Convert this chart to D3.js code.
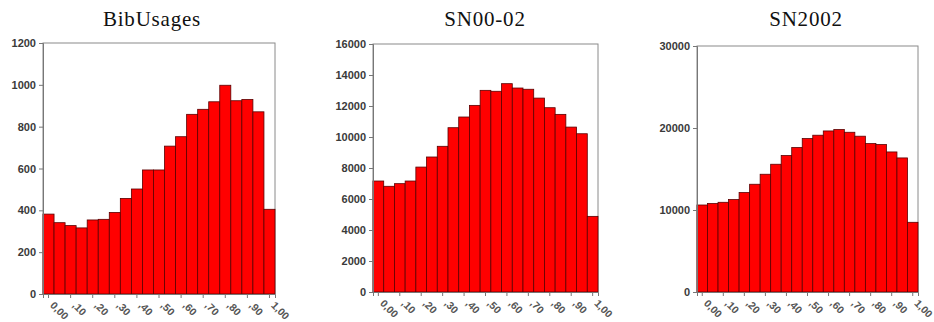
<!DOCTYPE html>
<html>
<head>
<meta charset="utf-8">
<script src="https://cdn.jsdelivr.net/npm/d3@7"></script>
<style>
  html, body { margin: 0; padding: 0; background: #fff; }
  svg { display: block; }
  .axis text { font-family: "Liberation Sans", Arial, sans-serif; font-weight: bold; font-size: 11px; fill: #3a3a3a; }
  .axis path, .axis line { stroke: #777; }
  .title { font-family: "Liberation Serif", "DejaVu Serif", serif; font-size: 21px; letter-spacing: 0.8px; fill: #111; }
</style>
</head>
<body>
<script>
// Histogram bins (centres 0.00 … 1.00, step 0.05)
const binCenters = [0.00,0.05,0.10,0.15,0.20,0.25,0.30,0.35,0.40,0.45,0.50,0.55,0.60,0.65,0.70,0.75,0.80,0.85,0.90,0.95,1.00];
const xTickLabels = ["0,00",",10",",20",",30",",40",",50",",60",",70",",80",",90","1,00"];

const bibUsages = [382,341,327,316,354,357,390,457,502,593,593,707,752,859,883,919,998,924,930,871,405];
const sn0002    = [7160,6820,6990,7160,8060,8710,9400,10600,11290,12040,13010,12950,13440,13160,13080,12510,11890,11460,10640,10210,4880];
const sn2002    = [10610,10790,10940,11270,12130,13140,14360,15580,16640,17620,18710,19120,19640,19810,19480,19000,18100,17980,17080,16350,8500];

const titles = ["BibUsages", "SN00-02", "SN2002"];
const yMax   = [1200, 16000, 30000];
const yTicks = [
  [0,200,400,600,800,1000,1200],
  [0,2000,4000,6000,8000,10000,12000,14000,16000],
  [0,10000,20000,30000]
];
const series = [bibUsages, sn0002, sn2002];

// Panel frames
const panels = [
  {left: 43,  right: 275, top: 43, bottom: 294, titleX: 152},
  {left: 373, right: 598, top: 44, bottom: 292, titleX: 485},
  {left: 697, right: 918, top: 46, bottom: 292, titleX: 806}
];

const svg = d3.select("body").append("svg")
  .attr("width", 934).attr("height", 322);

panels.forEach((p, i) => {
  const g = svg.append("g");

  const x = d3.scaleBand()
    .domain(binCenters.map((d, k) => k))
    .range([p.left, p.right])
    .padding(0);

  const y = d3.scaleLinear()
    .domain([0, yMax[i]])
    .range([p.bottom, p.top]);

  // plot frame
  g.append("rect")
    .attr("x", p.left).attr("y", p.top)
    .attr("width", p.right - p.left).attr("height", p.bottom - p.top)
    .attr("fill", "none").attr("stroke", "#8a8a8a").attr("stroke-width", 1);

  // bars
  g.append("g").selectAll("rect")
    .data(series[i])
    .join("rect")
    .attr("x", (d, k) => x(k))
    .attr("y", d => y(d))
    .attr("width", x.bandwidth())
    .attr("height", d => y(0) - y(d))
    .attr("fill", "#ff0000")
    .attr("stroke", "#5a0000")
    .attr("stroke-width", 0.8);

  // y axis
  g.append("g")
    .attr("class", "axis")
    .attr("transform", `translate(${p.left},0)`)
    .call(d3.axisLeft(y).tickValues(yTicks[i]).tickSize(4).tickPadding(3).tickFormat(d3.format("d")))
    .call(a => a.select(".domain").attr("stroke", "#777"));

  // x axis: a tick on every other bin
  const tickIdx = binCenters.map((d, k) => k).filter(k => k % 2 === 0);
  const xa = g.append("g")
    .attr("class", "axis")
    .attr("transform", `translate(0,${p.bottom})`)
    .call(d3.axisBottom(x).tickValues(tickIdx).tickSize(4)
      .tickFormat((d, k) => xTickLabels[k]));
  xa.select(".domain").attr("stroke", "#333");
  xa.selectAll(".tick line").attr("stroke", "#222");
  xa.selectAll(".tick text")
    .attr("text-anchor", "start")
    .attr("dy", null)
    .attr("y", 0)
    .attr("x", 0)
    .attr("transform", "translate(3,10) rotate(45)")
    .attr("dominant-baseline", "middle")
    .style("font-size", "10.5px")
    .style("fill", "#555");

  // title
  g.append("text")
    .attr("class", "title")
    .attr("x", p.titleX)
    .attr("y", 26)
    .attr("text-anchor", "middle")
    .text(titles[i]);
});
</script>
</body>
</html>
